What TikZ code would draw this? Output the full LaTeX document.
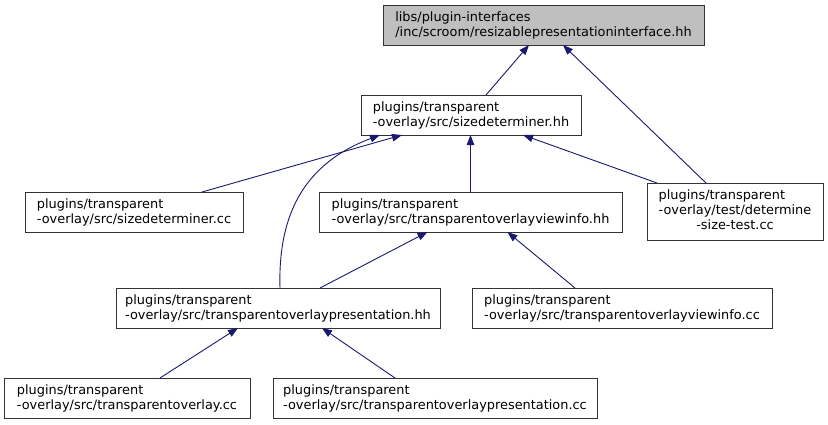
\documentclass[tikz,border=0pt]{standalone}
\usepackage{fontspec}
\setmainfont{DejaVu Sans}
\usetikzlibrary{arrows.meta}
\definecolor{edgeblue}{HTML}{191970}
\definecolor{rootfill}{HTML}{BFBFBF}
\begin{document}
\begin{tikzpicture}[x=1pt,y=-1pt,
  box/.style={draw=black!80, line width=1pt, fill=white, rectangle, inner sep=0pt, outer sep=0pt,
    align=left, font=\fontsize{12.9}{15}\selectfont},
  rootbox/.style={box, fill=rootfill},
  dep/.style={draw=edgeblue, line width=0.9pt, -{Triangle[length=10pt,width=7.5pt,fill=edgeblue]}}
]
\useasboundingbox (0,0) rectangle (828,424);
\fill[white] (0,0) rectangle (828,424);

\node[rootbox, minimum width=321pt, minimum height=40pt] (top) at (543.5,25)
  {libs/plugin-interfaces\\/inc/scroom/resizablepresentationinterface.hh};
\node[box, minimum width=220pt, minimum height=40pt] (sdhh) at (471,115)
  {plugins/transparent\\-overlay/src/sizedeterminer.hh};
\node[box, minimum width=218pt, minimum height=40pt] (sdcc) at (134,212)
  {plugins/transparent\\-overlay/src/sizedeterminer.cc};
\node[box, minimum width=303pt, minimum height=40pt] (vihh) at (470.5,212)
  {plugins/transparent\\-overlay/src/transparentoverlayviewinfo.hh};
\node[box, minimum width=176pt, minimum height=57pt] (dst) at (735,211.5)
  {\begin{tabular}{@{}l@{}}plugins/transparent\\ -overlay/test/determine\\ \multicolumn{1}{@{}c@{}}{-size-test.cc}\end{tabular}};
\node[box, minimum width=324pt, minimum height=40pt] (pohh) at (278,308)
  {plugins/transparent\\-overlay/src/transparentoverlaypresentation.hh};
\node[box, minimum width=300pt, minimum height=40pt] (vicc) at (622,308)
  {plugins/transparent\\-overlay/src/transparentoverlayviewinfo.cc};
\node[box, minimum width=246pt, minimum height=40pt] (tocc) at (127,398)
  {plugins/transparent\\-overlay/src/transparentoverlay.cc};
\node[box, minimum width=324pt, minimum height=40pt] (pocc) at (435,398)
  {plugins/transparent\\-overlay/src/transparentoverlaypresentation.cc};

\draw[dep] ([xshift=15pt]sdhh.north) -- ([xshift=-14.5pt]top.south);
\draw[dep] ([xshift=-29pt]dst.north) -- ([xshift=19.5pt]top.south);
\draw[dep] ([xshift=68pt]sdcc.north) -- ([xshift=-69pt]sdhh.south);
\draw[dep] (vihh.north) -- (vihh.north |- sdhh.south);
\draw[dep] ([xshift=-78pt]dst.north) -- ([xshift=52pt]sdhh.south);
\draw[dep] ([xshift=2pt]pohh.north) .. controls ([xshift=0pt,yshift=68pt]pohh.north) and ([xshift=-171pt,yshift=-30pt]sdhh.south) .. ([xshift=-91pt]sdhh.south);
\draw[dep] ([xshift=42pt]pohh.north) -- ([xshift=-43pt]vihh.south);
\draw[dep] ([xshift=-47pt]vicc.north) -- ([xshift=37pt]vihh.south);
\draw[dep] ([xshift=33pt]tocc.north) -- ([xshift=-40pt]pohh.south);
\draw[dep] ([xshift=-40pt]pocc.north) -- ([xshift=44pt]pohh.south);
\end{tikzpicture}
\end{document}
